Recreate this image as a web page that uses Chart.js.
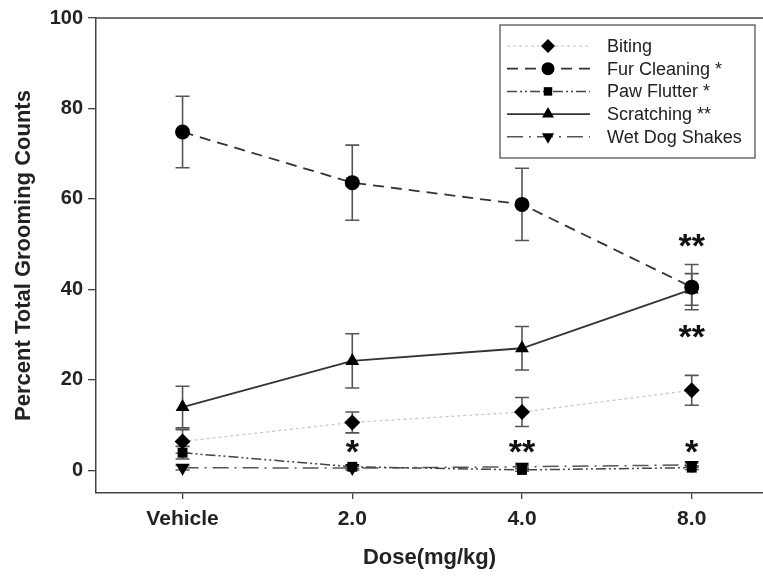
<!DOCTYPE html>
<html>
<head>
<meta charset="utf-8">
<script src="https://cdn.jsdelivr.net/npm/chart.js@4.4.1/dist/chart.umd.min.js"></script>
<style>
html,body{margin:0;padding:0;background:#fff;}
#wrap{width:763px;height:576px;}
</style>
</head>
<body>
<div id="wrap"><canvas id="chart" width="763" height="576"></canvas></div>
<script>
// dose groups on the x axis
const doseLabels = ['Vehicle', '2.0', '4.0', '8.0'];
const doseIndex = [0, 1, 2, 3];

// mean percent of total grooming counts + error (SEM)
const biting = [6.4, 10.6, 12.9, 17.7];
const bitingErr = [2.6, 2.3, 3.2, 3.3];
const furCleaning = [74.8, 63.6, 58.8, 40.5];
const furCleaningErr = [7.9, 8.3, 8.0, 5.0];
const pawFlutter = [3.9, 0.8, 0.1, 0.6];
const pawFlutterErr = [1.4, 0.4, 0.3, 0.4];
const scratching = [14.0, 24.2, 27.0, 40.0];
const scratchingErr = [4.6, 6.0, 4.8, 3.5];
const wetDog = [0.6, 0.5, 0.8, 1.2];
const wetDogErr = [0.5, 0.4, 0.4, 0.5];

const yTicks = [0, 20, 40, 60, 80, 100];

// significance marks
const starX = [3, 3, 1, 2, 3];
const starY = [51, 31, 5.5, 5.5, 5.5];
const starText = ['**', '**', '*', '**', '*'];

const FONT = "'Liberation Sans', Arial, sans-serif";

function pts(arr){ return arr.map((v,i)=>({x: doseIndex[i], y: v})); }

function series(label, data, err, style){
  return Object.assign({
    label, data: pts(data), err,
    pointBackgroundColor:'#000', pointBorderColor:'#000', pointBorderWidth:0,
    fill:false, tension:0
  }, style);
}

const datasets = [
  series('Biting', biting, bitingErr, {borderColor:'#c4c4c4', borderWidth:1.2, borderDash:[3,3], pointStyle:'rectRot', pointRadius:8}),
  series('Fur Cleaning *', furCleaning, furCleaningErr, {borderColor:'#333', borderWidth:1.8, borderDash:[11,7], pointStyle:'circle', pointRadius:7.5}),
  series('Paw Flutter *', pawFlutter, pawFlutterErr, {borderColor:'#444', borderWidth:1.5, borderDash:[10,3,2,3,2,3], pointStyle:'rect', pointRadius:7}),
  series('Scratching **', scratching, scratchingErr, {borderColor:'#333', borderWidth:1.8, borderDash:[], pointStyle:'triangle', pointRadius:8}),
  series('Wet Dog Shakes', wetDog, wetDogErr, {borderColor:'#555', borderWidth:1.5, borderDash:[16,6,2,6], pointStyle:'triangle', pointRotation:180, pointRadius:8})
];

// error bars under the markers
const errorBars = {
  id:'errorBars',
  beforeDatasetsDraw(chart){
    const ctx = chart.ctx, ys = chart.scales.y;
    ctx.save();
    ctx.strokeStyle = '#555';
    ctx.lineWidth = 1.6;
    chart.data.datasets.forEach((ds, di)=>{
      chart.getDatasetMeta(di).data.forEach((p, i)=>{
        const v = ds.data[i].y, e = ds.err[i];
        const t = ys.getPixelForValue(v+e), b = ys.getPixelForValue(v-e);
        ctx.beginPath();
        ctx.moveTo(p.x, t); ctx.lineTo(p.x, b);
        ctx.moveTo(p.x-7, t); ctx.lineTo(p.x+7, t);
        ctx.moveTo(p.x-7, b); ctx.lineTo(p.x+7, b);
        ctx.stroke();
      });
    });
    ctx.restore();
  }
};

// top frame line, asterisks and boxed legend
const extras = {
  id:'extras',
  afterDraw(chart){
    const ctx = chart.ctx, a = chart.chartArea;
    const xs = chart.scales.x, ys = chart.scales.y;
    ctx.save();
    ctx.strokeStyle = '#444'; ctx.lineWidth = 1.5;
    ctx.beginPath(); ctx.moveTo(a.left, a.top); ctx.lineTo(a.right, a.top); ctx.stroke();

    ctx.fillStyle = '#111';
    ctx.font = 'bold 34px ' + FONT;
    ctx.textAlign = 'center'; ctx.textBaseline = 'middle';
    starText.forEach((s,i)=>{
      ctx.fillText(s, xs.getPixelForValue(starX[i]), ys.getPixelForValue(starY[i]) + 8);
    });

    // legend
    const lx = 500, ly = 25, lw = 255, lh = 133;
    ctx.strokeStyle = '#555'; ctx.lineWidth = 1.3;
    ctx.fillStyle = '#fff';
    ctx.fillRect(lx, ly, lw, lh);
    ctx.strokeRect(lx, ly, lw, lh);
    ctx.font = '18px ' + FONT;
    ctx.textAlign = 'left';
    chart.data.datasets.forEach((ds, i)=>{
      const y = 46 + i*22.7;
      ctx.save();
      ctx.strokeStyle = ds.borderColor; ctx.lineWidth = ds.borderWidth;
      ctx.setLineDash(ds.borderDash || []);
      ctx.beginPath(); ctx.moveTo(507, y); ctx.lineTo(590, y); ctx.stroke();
      ctx.setLineDash([]);
      ctx.fillStyle = '#000';
      Chart.helpers.drawPoint(ctx, {pointStyle: ds.pointStyle, rotation: ds.pointRotation || 0, radius: ds.pointRadius - 1, borderWidth: 0}, 548, y);
      ctx.restore();
      ctx.fillStyle = '#222';
      ctx.fillText(ds.label, 607, y + 1);
    });
    ctx.restore();
  }
};

new Chart(document.getElementById('chart'), {
  type:'line',
  data:{datasets},
  plugins:[errorBars, extras],
  options:{
    responsive:false,
    animation:false,
    layout:{autoPadding:false, padding:{top:18, right:0, left:0, bottom:0}},
    plugins:{legend:{display:false}, tooltip:{enabled:false}},
    scales:{
      x:{
        type:'linear', min:-0.51, max:3.42,
        afterBuildTicks(s){ s.ticks = doseIndex.map(v=>({value:v})); },
        afterFit(s){ s.height = 83; },
        ticks:{callback:(v)=>doseLabels[v], color:'#222', padding:8, font:{family:FONT, size:21, weight:'bold'}},
        grid:{display:true, drawOnChartArea:false, tickLength:6, color:'#444', lineWidth:1.3},
        border:{display:true, color:'#444', width:1.5},
        title:{display:true, text:'Dose(mg/kg)', color:'#222', padding:{top:0, bottom:5}, font:{family:FONT, size:22, weight:'bold'}}
      },
      y:{
        min:-5, max:100,
        afterBuildTicks(s){ s.ticks = yTicks.map(v=>({value:v})); },
        afterFit(s){ s.width = 96; },
        ticks:{color:'#222', padding:5, font:{family:FONT, size:20, weight:'bold'}},
        grid:{display:true, drawOnChartArea:false, tickLength:8, color:'#444', lineWidth:1.3},
        border:{display:true, color:'#444', width:1.5},
        title:{display:true, text:'Percent Total Grooming Counts', color:'#222', padding:{top:11, bottom:0}, font:{family:FONT, size:22, weight:'bold'}}
      }
    }
  }
});
</script>
</body>
</html>
